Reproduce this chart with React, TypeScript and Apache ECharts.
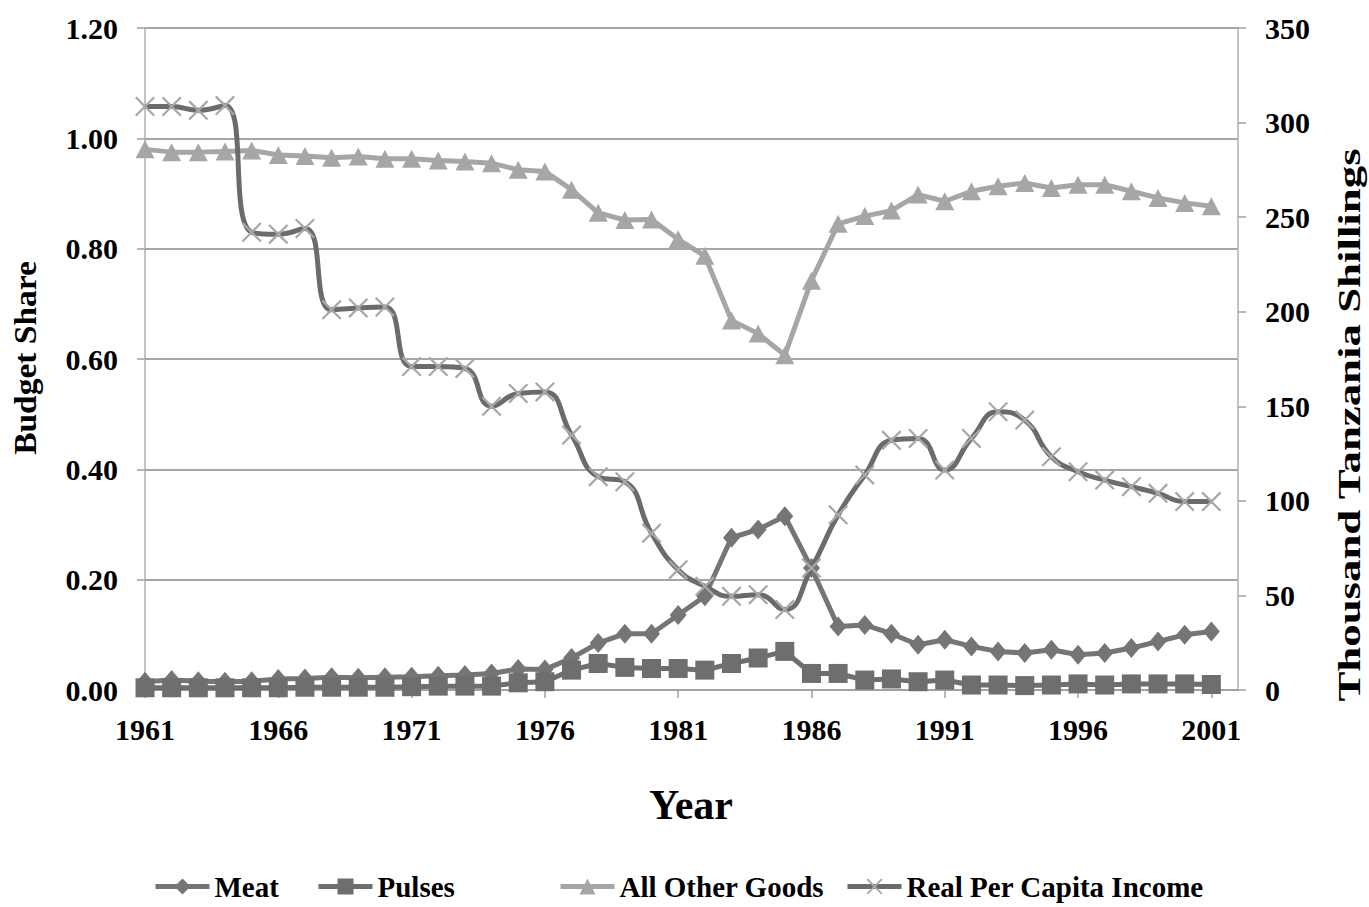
import React, { useEffect, useRef } from "react";
import * as echarts from "echarts";

const years: string[] = [
  "1961","1962","1963","1964","1965","1966","1967","1968","1969","1970",
  "1971","1972","1973","1974","1975","1976","1977","1978","1979","1980",
  "1981","1982","1983","1984","1985","1986","1987","1988","1989","1990",
  "1991","1992","1993","1994","1995","1996","1997","1998","1999","2000",
  "2001","2002",
];

const meat: number[] = [
  0.015, 0.018, 0.016, 0.015, 0.016, 0.02, 0.021, 0.023, 0.022, 0.023,
  0.024, 0.026, 0.027, 0.03, 0.038, 0.037, 0.058, 0.085, 0.102, 0.102,
  0.136, 0.17, 0.276, 0.291, 0.315, 0.221, 0.115, 0.118, 0.102, 0.082,
  0.091, 0.079, 0.07, 0.067, 0.073, 0.064, 0.067, 0.076, 0.088, 0.1,
  0.106,
];

const pulses: number[] = [
  0.004, 0.004, 0.004, 0.004, 0.004, 0.004, 0.005, 0.005, 0.005, 0.005,
  0.006, 0.007, 0.007, 0.007, 0.013, 0.015, 0.036, 0.048, 0.041, 0.039,
  0.039, 0.036, 0.048, 0.058, 0.07, 0.03, 0.03, 0.018, 0.02, 0.015,
  0.018, 0.009, 0.009, 0.008, 0.009, 0.011, 0.009, 0.011, 0.011, 0.011,
  0.01,
];

const otherGoods: number[] = [
  0.98, 0.975, 0.975, 0.976, 0.978, 0.97, 0.968, 0.965, 0.967, 0.963,
  0.963, 0.96, 0.958, 0.955, 0.943, 0.94, 0.907, 0.865, 0.852, 0.853,
  0.817, 0.787, 0.67, 0.646, 0.607, 0.742, 0.845, 0.859, 0.869, 0.898,
  0.886, 0.904, 0.913, 0.919, 0.91, 0.916, 0.916, 0.904, 0.892, 0.883,
  0.877,
];

const income: number[] = [
  308.5, 308.5, 306.5, 309, 242, 241, 244, 201, 202, 202.5,
  171, 171, 170, 150, 156.8, 157.6, 134.8, 112.8, 110.1, 82.9,
  63.6, 54.8, 49.5, 50.4, 42.5, 64.5, 92.6, 113.7, 132, 133,
  116.3, 133, 147.1, 142.7, 123.3, 115.4, 111, 107.5, 104, 99.6,
  99.6,
];

const leftTicks = { min: 0, max: 1.2, interval: 0.2 };
const rightTicks = { min: 0, max: 350, interval: 50 };

const FONT = "'Liberation Serif', 'Times New Roman', serif";
const X_SYMBOL = "path://M0,0.8 L0.8,0 L10,9.2 L9.2,10 Z M9.2,0 L10,0.8 L0.8,10 L0,9.2 Z";

export default function App() {
  const ref = useRef<HTMLDivElement>(null);

  useEffect(() => {
    if (!ref.current) return;
    const chart = echarts.init(ref.current, undefined, { renderer: "svg" });
    const legendText = { fontFamily: FONT, fontWeight: "bold" as const, fontSize: 29, color: "#000" };
    const mkLegend = (name: string, left: number) => ({
      data: [name],
      left,
      top: 872,
      itemWidth: 54,
      itemHeight: 20,
      itemGap: 5,
      textStyle: legendText,
      lineStyle: { width: 5 },
      padding: 0,
    });
    chart.setOption({
      animation: false,
      backgroundColor: "#ffffff",
      grid: { left: 145, right: 131, top: 28, bottom: 217, containLabel: false },
      legend: [
        mkLegend("Meat", 153),
        mkLegend("Pulses", 316),
        mkLegend("All Other Goods", 558),
        mkLegend("Real Per Capita Income", 845),
      ],
      xAxis: {
        type: "category",
        data: years,
        boundaryGap: false,
        axisLine: { lineStyle: { color: "#a0a0a0", width: 1.5 } },
        axisTick: { show: true, interval: 4, length: 8, lineStyle: { color: "#a0a0a0", width: 1.5 } },
        axisLabel: {
          interval: 4,
          margin: 24,
          fontFamily: FONT,
          fontWeight: "bold",
          fontSize: 30,
          color: "#000",
        },
        splitLine: { show: false },
      },
      yAxis: [
        {
          type: "value",
          min: leftTicks.min,
          max: leftTicks.max,
          interval: leftTicks.interval,
          position: "left",
          axisLine: { show: true, lineStyle: { color: "#b0b0b0", width: 1.5 } },
          axisTick: { show: true, length: 8, lineStyle: { color: "#a0a0a0", width: 1.5 } },
          axisLabel: {
            margin: 27,
            formatter: (v: number) => v.toFixed(2),
            fontFamily: FONT,
            fontWeight: "bold",
            fontSize: 30,
            color: "#000",
          },
          splitLine: { show: true, lineStyle: { color: "#a6a6a6", width: 2 } },
        },
        {
          type: "value",
          min: rightTicks.min,
          max: rightTicks.max,
          interval: rightTicks.interval,
          position: "right",
          axisLine: { show: true, lineStyle: { color: "#b0b0b0", width: 1.5 } },
          axisTick: { show: true, length: 8, lineStyle: { color: "#a0a0a0", width: 1.5 } },
          axisLabel: {
            margin: 27,
            fontFamily: FONT,
            fontWeight: "bold",
            fontSize: 30,
            color: "#000",
          },
          splitLine: { show: false },
        },
      ],
      series: [
        {
          name: "Meat",
          type: "line",
          data: meat,
          yAxisIndex: 0,
          showAllSymbol: true,
          symbol: "diamond",
          symbolSize: [17, 20],
          lineStyle: { color: "#757575", width: 5 },
          itemStyle: { color: "#757575" },
          z: 3,
        },
        {
          name: "Pulses",
          type: "line",
          data: pulses,
          yAxisIndex: 0,
          showAllSymbol: true,
          symbol: "rect",
          symbolSize: [19, 19],
          lineStyle: { color: "#6e6e6e", width: 5 },
          itemStyle: { color: "#6e6e6e" },
          z: 3,
        },
        {
          name: "All Other Goods",
          type: "line",
          data: otherGoods,
          yAxisIndex: 0,
          showAllSymbol: true,
          symbol: "triangle",
          symbolSize: [19, 18],
          lineStyle: { color: "#a6a6a6", width: 5 },
          itemStyle: { color: "#a6a6a6" },
          z: 3,
        },
        {
          name: "Real Per Capita Income",
          type: "line",
          data: income,
          yAxisIndex: 1,
          smooth: 0.5,
          showAllSymbol: true,
          symbol: X_SYMBOL,
          symbolSize: 20,
          lineStyle: { color: "#6b6b6b", width: 5 },
          itemStyle: { color: "#a8a8a8" },
          z: 4,
        },
      ],
      graphic: [
        {
          type: "text",
          x: 25,
          y: 358,
          rotation: Math.PI / 2,
          scaleX: 1.08,
          style: {
            text: "Budget Share",
            fontFamily: FONT,
            fontWeight: "bold",
            fontSize: 31,
            fill: "#000",
            textAlign: "center",
            textVerticalAlign: "middle",
          },
        },
        {
          type: "text",
          x: 1349,
          y: 425,
          rotation: Math.PI / 2,
          scaleX: 1.18,
          scaleY: 0.85,
          style: {
            text: "Thousand Tanzania Shillings",
            fontFamily: FONT,
            fontWeight: "bold",
            fontSize: 38,
            fill: "#000",
            textAlign: "center",
            textVerticalAlign: "middle",
          },
        },
        {
          type: "text",
          x: 691,
          y: 805,
          style: {
            text: "Year",
            fontFamily: FONT,
            fontWeight: "bold",
            fontSize: 42,
            fill: "#000",
            textAlign: "center",
            textVerticalAlign: "middle",
          },
        },
      ],
    });
    return () => chart.dispose();
  }, []);

  return (
    <div
      ref={ref}
      style={{ position: "absolute", left: 0, top: 0, width: 1369, height: 907, background: "#fff" }}
    />
  );
}
